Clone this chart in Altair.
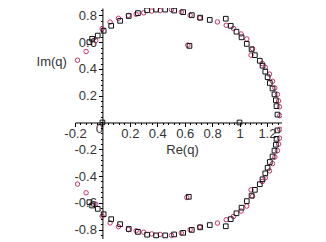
import altair as alt
import pandas as pd

# circles (red/magenta series)
circ_x = [-0.182, -0.119, -0.049, -0.002, 0.056, 0.117, 0.190, 0.246, 0.301, 0.360,
          0.421, 0.504, 0.575, 0.640, 0.710, 0.839, 0.903, 0.956, 1.012, 1.053,
          1.095, 1.084, 1.166, 1.188, 1.219, 1.241, 1.258, 1.277, 1.285, 1.292, 1.294,
          0.623,
          -0.182, -0.119, -0.049, -0.002, 0.056, 0.117, 0.190, 0.246, 0.301, 0.360,
          0.421, 0.504, 0.575, 0.640, 0.710, 0.839, 0.903, 0.956, 1.012, 1.053,
          1.095, 1.084, 1.166, 1.188, 1.219, 1.241, 1.258, 1.277, 1.285, 1.292, 1.294,
          0.615]
circ_y = [0.465, 0.530, 0.612, 0.700, 0.750, 0.778, 0.800, 0.808, 0.819, 0.832,
          0.836, 0.843, 0.825, 0.800, 0.780, 0.751, 0.726, 0.702, 0.661, 0.624,
          0.551, 0.503, 0.441, 0.412, 0.361, 0.307, 0.258, 0.210, 0.161, 0.117, 0.051,
          0.578,
          -0.460, -0.525, -0.610, -0.700, -0.750, -0.778, -0.800, -0.808, -0.819, -0.832,
          -0.836, -0.843, -0.825, -0.800, -0.780, -0.751, -0.726, -0.702, -0.661, -0.624,
          -0.551, -0.503, -0.441, -0.412, -0.361, -0.307, -0.258, -0.210, -0.161, -0.117, -0.051,
          -0.560]

# squares (black series)
sq_x = [-0.095, -0.075, -0.034, 0.009, 0.064, 0.129, 0.192, 0.259, 0.326, 0.392,
        0.458, 0.523, 0.589, 0.652, 0.713, 0.783, 0.900, 0.936, 0.978, 1.015,
        1.053, 1.088, 1.112, 1.148, 1.168, 1.188, 1.205, 1.221, 1.241, 1.255, 1.265,
        1.270, 1.277,
        0.635,
        -0.095, -0.075, -0.034, 0.009, 0.064, 0.129, 0.192, 0.259, 0.326, 0.392,
        0.458, 0.523, 0.589, 0.652, 0.713, 0.783, 0.900, 0.936, 0.978, 1.015,
        1.053, 1.088, 1.112, 1.148, 1.168, 1.188, 1.205, 1.221, 1.241, 1.255, 1.265,
        1.270, 1.277,
        0.630,
        0.0, 1.0]
sq_y = [0.600, 0.625, 0.649, 0.685, 0.722, 0.759, 0.795, 0.817, 0.838, 0.843,
        0.843, 0.836, 0.824, 0.802, 0.783, 0.766, 0.775, 0.722, 0.678, 0.636,
        0.587, 0.546, 0.503, 0.461, 0.424, 0.380, 0.338, 0.295, 0.254, 0.210, 0.166,
        0.122, 0.059,
        0.572,
        -0.595, -0.620, -0.645, -0.685, -0.722, -0.759, -0.795, -0.817, -0.838, -0.843,
        -0.843, -0.836, -0.824, -0.802, -0.783, -0.766, -0.775, -0.722, -0.678, -0.636,
        -0.587, -0.546, -0.503, -0.461, -0.424, -0.380, -0.338, -0.295, -0.254, -0.210, -0.166,
        -0.122, -0.059,
        -0.555,
        0.0, 0.0]

x_major = [-0.2, 0, 0.2, 0.4, 0.6, 0.8, 1, 1.2]
y_major = [-0.8, -0.6, -0.4, -0.2, 0.2, 0.4, 0.6, 0.8]
x_minor = [round(i * 0.04, 2) for i in range(-5, 33)]
y_minor = [round(i * 0.04, 2) for i in range(-21, 22)]

XMIN, XMAX = -0.2, 1.31
YMIN, YMAX = -0.87, 0.855
W, H = 207, 231

x_off = -W * (0 - XMIN) / (XMAX - XMIN)
y_off = -(H - H * YMAX / (YMAX - YMIN))

fmt = "replace(format(datum.value, '~g'), '\u2212', '-')"
FONT = "Liberation Sans"
TXT = "#333333"

df_c = pd.DataFrame({"x": circ_x, "y": circ_y})
df_s = pd.DataFrame({"x": sq_x, "y": sq_y})

xs = alt.Scale(domain=[XMIN, XMAX], nice=False, zero=False)
ys = alt.Scale(domain=[YMIN, YMAX], nice=False, zero=False)

x_axis = alt.Axis(
    orient="bottom",
    values=x_major,
    labelExpr=fmt,
    tickSize=4,
    labelAlign={"condition": {"test": "datum.value == 0", "value": "right"}, "value": "center"},
    labelPadding={"condition": {"test": "datum.value == 0", "value": -4}, "value": 1},
    offset=y_off,
    grid=False,
    domainColor="black",
    tickColor="black",
    labelColor=TXT,
    labelFont=FONT,
    labelFontSize=13,
    labelFlush=False,
    labelOverlap=False,
    title="Re(q)",
    titleFont=FONT,
    titleFontSize=13,
    titleFontWeight="normal",
    titleColor=TXT,
    titleX=107,
    titleY=27,
    titleBaseline="middle",
    titleAlign="center",
)

y_axis = alt.Axis(
    orient="left",
    values=y_major,
    labelExpr=fmt,
    tickSize=4,
    offset=x_off,
    grid=False,
    domainColor="black",
    tickColor="black",
    labelColor=TXT,
    labelFont=FONT,
    labelFontSize=13,
    labelPadding=2,
    labelFlush=False,
    labelOverlap=False,
    title="Im(q)",
    titleFont=FONT,
    titleFontSize=13,
    titleFontWeight="normal",
    titleColor=TXT,
    titleAngle=0,
    titleAlign="right",
    titleBaseline="middle",
    titleX=-36,
    titleY=53,
)

x_minor_axis = alt.Axis(
    orient="bottom", values=x_minor, labels=False, domain=False, grid=False,
    tickSize=2, tickColor="black", offset=y_off, title=None,
)
y_minor_axis = alt.Axis(
    orient="left", values=y_minor, labels=False, domain=False, grid=False,
    tickSize=2, tickColor="black", offset=x_off, title=None,
)

circles = alt.Chart(df_c).mark_point(
    shape="circle", filled=False, size=20, strokeWidth=1, color="#c8336e"
).encode(
    x=alt.X("x:Q", scale=xs, axis=x_axis),
    y=alt.Y("y:Q", scale=ys, axis=y_axis),
)

squares = alt.Chart(df_s).mark_point(
    shape="square", filled=False, size=22, strokeWidth=1, color="#111111"
).encode(
    x=alt.X("x:Q", scale=xs, axis=x_minor_axis),
    y=alt.Y("y:Q", scale=ys, axis=y_minor_axis),
)

chart = alt.layer(circles, squares).resolve_axis(
    x="independent", y="independent"
).properties(
    width=W,
    height=H,
    autosize=alt.AutoSizeParams(type="none"),
    padding={"left": 67, "top": 0, "right": 0, "bottom": 0},
    background="white",
).configure_view(stroke=None).configure_point(opacity=1)

chart.save("out.html", embed_options={"renderer": "svg", "actions": False})
